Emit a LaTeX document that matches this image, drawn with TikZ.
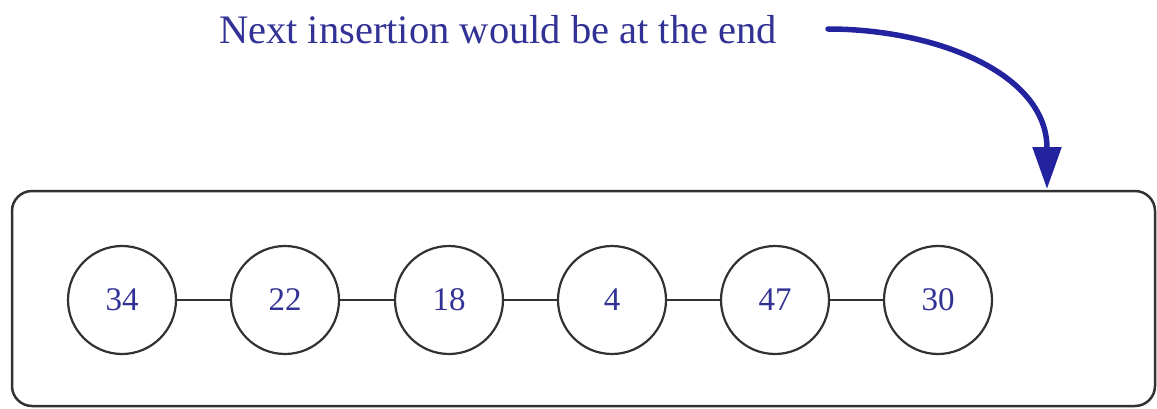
\documentclass[tikz,border=0pt]{standalone}
\usepackage{fontspec}
\setmainfont{Liberation Serif}
\usetikzlibrary{arrows.meta}
\definecolor{txtblue}{RGB}{50,50,150}
\definecolor{arrblue}{RGB}{35,35,160}
\definecolor{edge}{RGB}{50,50,50}
\tikzset{
  elem/.style={circle, draw=edge, line width=2.2pt, minimum size=108pt, inner sep=0pt,
    text=txtblue, font=\fontsize{33}{36}\selectfont},
  link/.style={draw=edge, line width=2.2pt},
  frame/.style={draw=edge, line width=2.5pt, rounded corners=20pt},
  callout/.style={text=txtblue, font=\fontsize{40.5}{44}\selectfont, inner sep=0pt},
  bigarrow/.style={draw=arrblue, line width=5.5pt, line cap=round,
    -{Triangle[length=42pt,width=28pt]}}
}
\begin{document}
\begin{tikzpicture}[x=1pt,y=1pt]
\useasboundingbox (0,0) rectangle (1157,408);
\node[frame, minimum width=1143pt, minimum height=215pt, inner sep=0pt] (box) at (583.5,109.5) {};
\node[elem] (n1) at (122,108) {34};
\node[elem] (n2) at (285,108) {22};
\node[elem] (n3) at (449,108) {18};
\node[elem] (n4) at (612,108) {4};
\node[elem] (n5) at (775,108) {47};
\node[elem] (n6) at (938,108) {30};
\draw[link] (n1) -- (n2);
\draw[link] (n2) -- (n3);
\draw[link] (n3) -- (n4);
\draw[link] (n4) -- (n5);
\draw[link] (n5) -- (n6);
\node[callout] (lbl) at (498,378) {Next insertion would be at the end};
\coordinate (as) at (828,379);
\coordinate (ae) at (1047,219);
\draw[bigarrow] (as) .. controls (935,379) and (1047,335) .. (ae);
\end{tikzpicture}
\end{document}
